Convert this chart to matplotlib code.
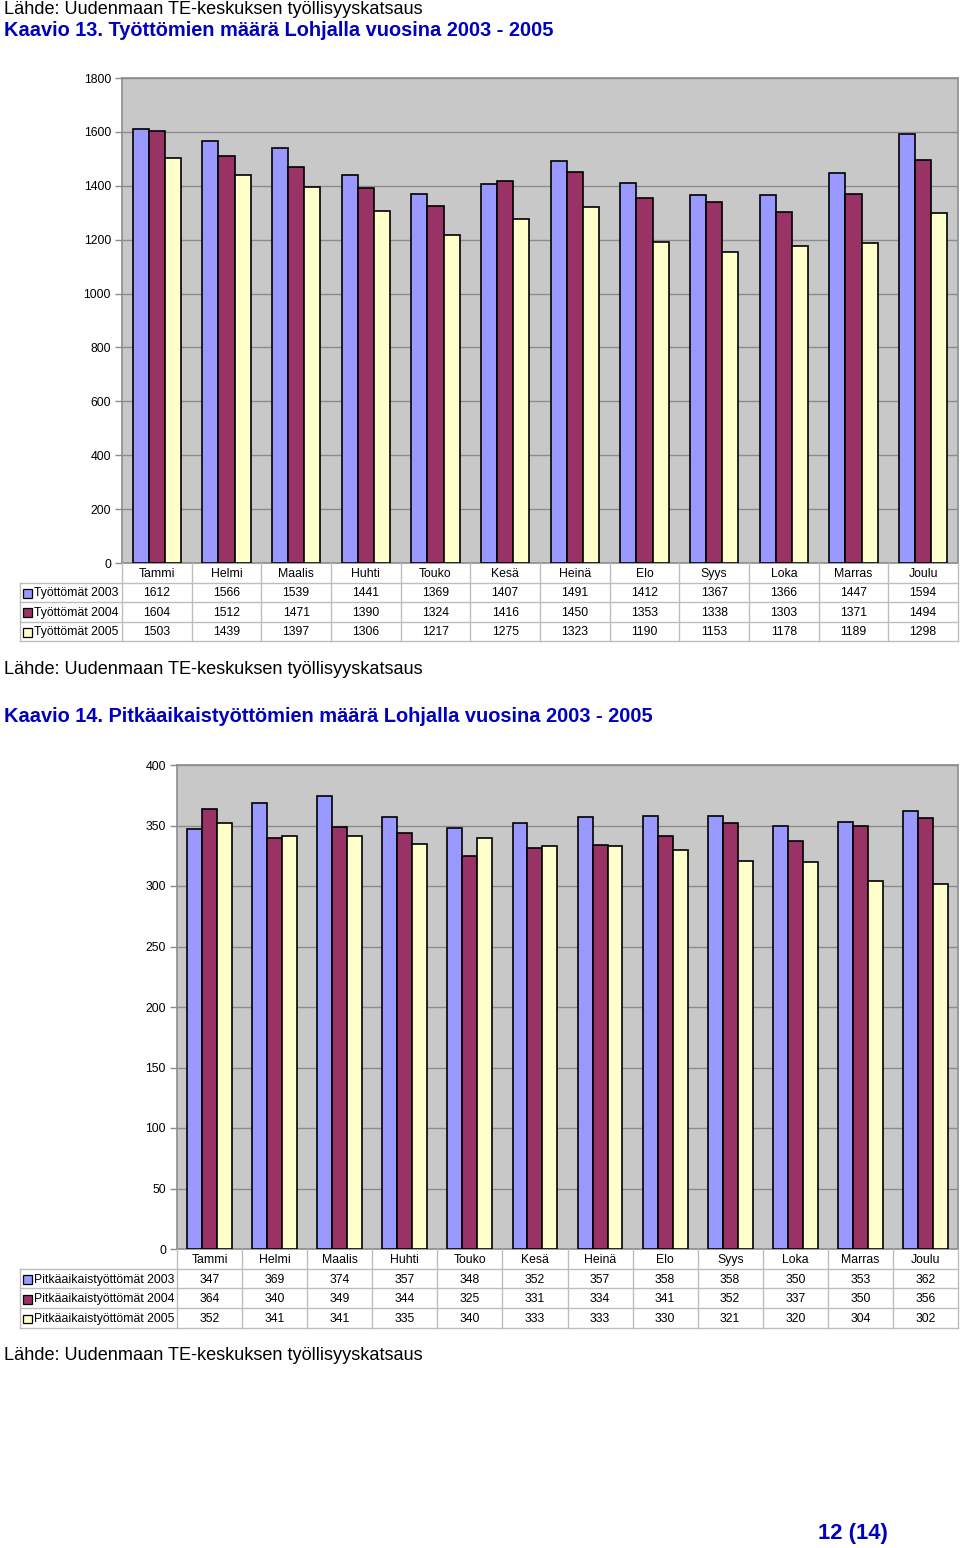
import numpy as np
import matplotlib.pyplot as plt
from matplotlib.patches import Rectangle
import matplotlib.transforms as mtransforms

plt.rcParams['font.family'] = ['Liberation Sans', 'DejaVu Sans']

months = ['Tammi', 'Helmi', 'Maalis', 'Huhti', 'Touko', 'Kesä',
          'Heinä', 'Elo', 'Syys', 'Loka', 'Marras', 'Joulu']

# Kaavio 13
tyottomat_2003 = [1612, 1566, 1539, 1441, 1369, 1407, 1491, 1412, 1367, 1366, 1447, 1594]
tyottomat_2004 = [1604, 1512, 1471, 1390, 1324, 1416, 1450, 1353, 1338, 1303, 1371, 1494]
tyottomat_2005 = [1503, 1439, 1397, 1306, 1217, 1275, 1323, 1190, 1153, 1178, 1189, 1298]
labels_13 = ['Työttömät 2003', 'Työttömät 2004', 'Työttömät 2005']

# Kaavio 14
pitka_2003 = [347, 369, 374, 357, 348, 352, 357, 358, 358, 350, 353, 362]
pitka_2004 = [364, 340, 349, 344, 325, 331, 334, 341, 352, 337, 350, 356]
pitka_2005 = [352, 341, 341, 335, 340, 333, 333, 330, 321, 320, 304, 302]
labels_14 = ['Pitkäaikaistyöttömät 2003', 'Pitkäaikaistyöttömät 2004',
             'Pitkäaikaistyöttömät 2005']

colors = ['#9999ff', '#993366', '#ffffcc']
wall = '#c8c8c8'
grid_col = '#8c8c8c'
line_col = '#bdbdbd'
blue = '#0000c0'

W, H = 960, 1548
fig = plt.figure(figsize=(W / 100, H / 100), dpi=100)


def px_rect(x0, y0, x1, y1):
    # pixel box (top-left origin) -> figure fraction
    return [x0 / W, 1 - y1 / H, (x1 - x0) / W, (y1 - y0) / H]


def draw_chart(series, labels, ymax, ystep, left, top, bottom, right,
               row_h, label_left):
    ax = fig.add_axes(px_rect(left, top, right, bottom))
    ax.set_facecolor(wall)
    n = len(months)
    x = np.arange(n)
    w = 0.23
    for i, vals in enumerate(series):
        ax.bar(x + (i - 1) * w, vals, width=w, color=colors[i],
               edgecolor='black', linewidth=1.2, zorder=3)
    ax.set_xlim(-0.5, n - 0.5)
    ax.set_ylim(0, ymax)
    ax.set_yticks(np.arange(0, ymax + 1, ystep))
    ax.yaxis.grid(True, color=grid_col, linewidth=1, zorder=1)
    ax.set_axisbelow(True)
    ax.set_xticks([])
    ax.tick_params(axis='y', length=5, width=1, color=grid_col,
                   labelsize=8.8, pad=3)
    for s in ['top', 'right', 'bottom', 'left']:
        ax.spines[s].set_color(grid_col)
        ax.spines[s].set_linewidth(1.2)

    # data table under the chart
    tb_h = row_h * 4
    tax = fig.add_axes(px_rect(left, bottom, right, bottom + tb_h))
    tax.set_xlim(-0.5, n - 0.5)
    tax.set_ylim(4, 0)
    tax.axis('off')
    lab_x = -(left - label_left) / (right - left)
    tr = mtransforms.blended_transform_factory(tax.transAxes, tax.transData)
    # horizontal lines
    for r in range(1, 5):
        tax.plot([lab_x, 1], [r, r], color=line_col, lw=1, transform=tr,
                 clip_on=False)
    # vertical lines
    for c in range(n + 1):
        tax.plot([c - 0.5, c - 0.5], [0, 4], color=line_col, lw=1,
                 clip_on=False)
    tax.plot([lab_x, lab_x], [1, 4], color=line_col, lw=1, transform=tr,
             clip_on=False)
    for c, m in enumerate(months):
        tax.text(c, 0.55, m, ha='center', va='center', fontsize=8.8)
    for r, vals in enumerate(series):
        for c, v in enumerate(vals):
            tax.text(c, r + 1.55, str(v), ha='center', va='center',
                     fontsize=8.8)
        key_w = 9 / (right - left)
        kx = lab_x + 3 / (right - left)
        tax.add_patch(Rectangle((kx, r + 1.55 - 0.22), key_w, 0.44,
                                facecolor=colors[r], edgecolor='black',
                                lw=0.9, transform=tr, clip_on=False))
        tax.text(kx + key_w + 2 / (right - left), r + 1.55, labels[r],
                 ha='left', va='center', fontsize=8.8, transform=tr)
    return ax


def fig_text(x, y, s, **kw):
    fig.text(x / W, 1 - y / H, s, va='center', **kw)


source = 'Lähde: Uudenmaan TE-keskuksen työllisyyskatsaus'

fig_text(4, 9, source, fontsize=13.1)
fig_text(4, 31, 'Kaavio 13. Työttömien määrä Lohjalla vuosina 2003 - 2005',
         fontsize=14.4, fontweight='bold', color=blue)
draw_chart([tyottomat_2003, tyottomat_2004, tyottomat_2005], labels_13,
           1800, 200, left=122, top=78, bottom=563, right=958,
           row_h=19.5, label_left=20)

fig_text(4, 669, source, fontsize=13.1)
fig_text(4, 716, 'Kaavio 14. Pitkäaikaistyöttömien määrä Lohjalla vuosina 2003 - 2005',
         fontsize=14.4, fontweight='bold', color=blue)
draw_chart([pitka_2003, pitka_2004, pitka_2005], labels_14,
           400, 50, left=177, top=765, bottom=1249, right=958,
           row_h=19.7, label_left=20)

fig_text(4, 1355, source, fontsize=13.1)
fig_text(818, 1533, '12 (14)', fontsize=15.8, fontweight='bold', color=blue)

fig.savefig('out.png', dpi=100)
